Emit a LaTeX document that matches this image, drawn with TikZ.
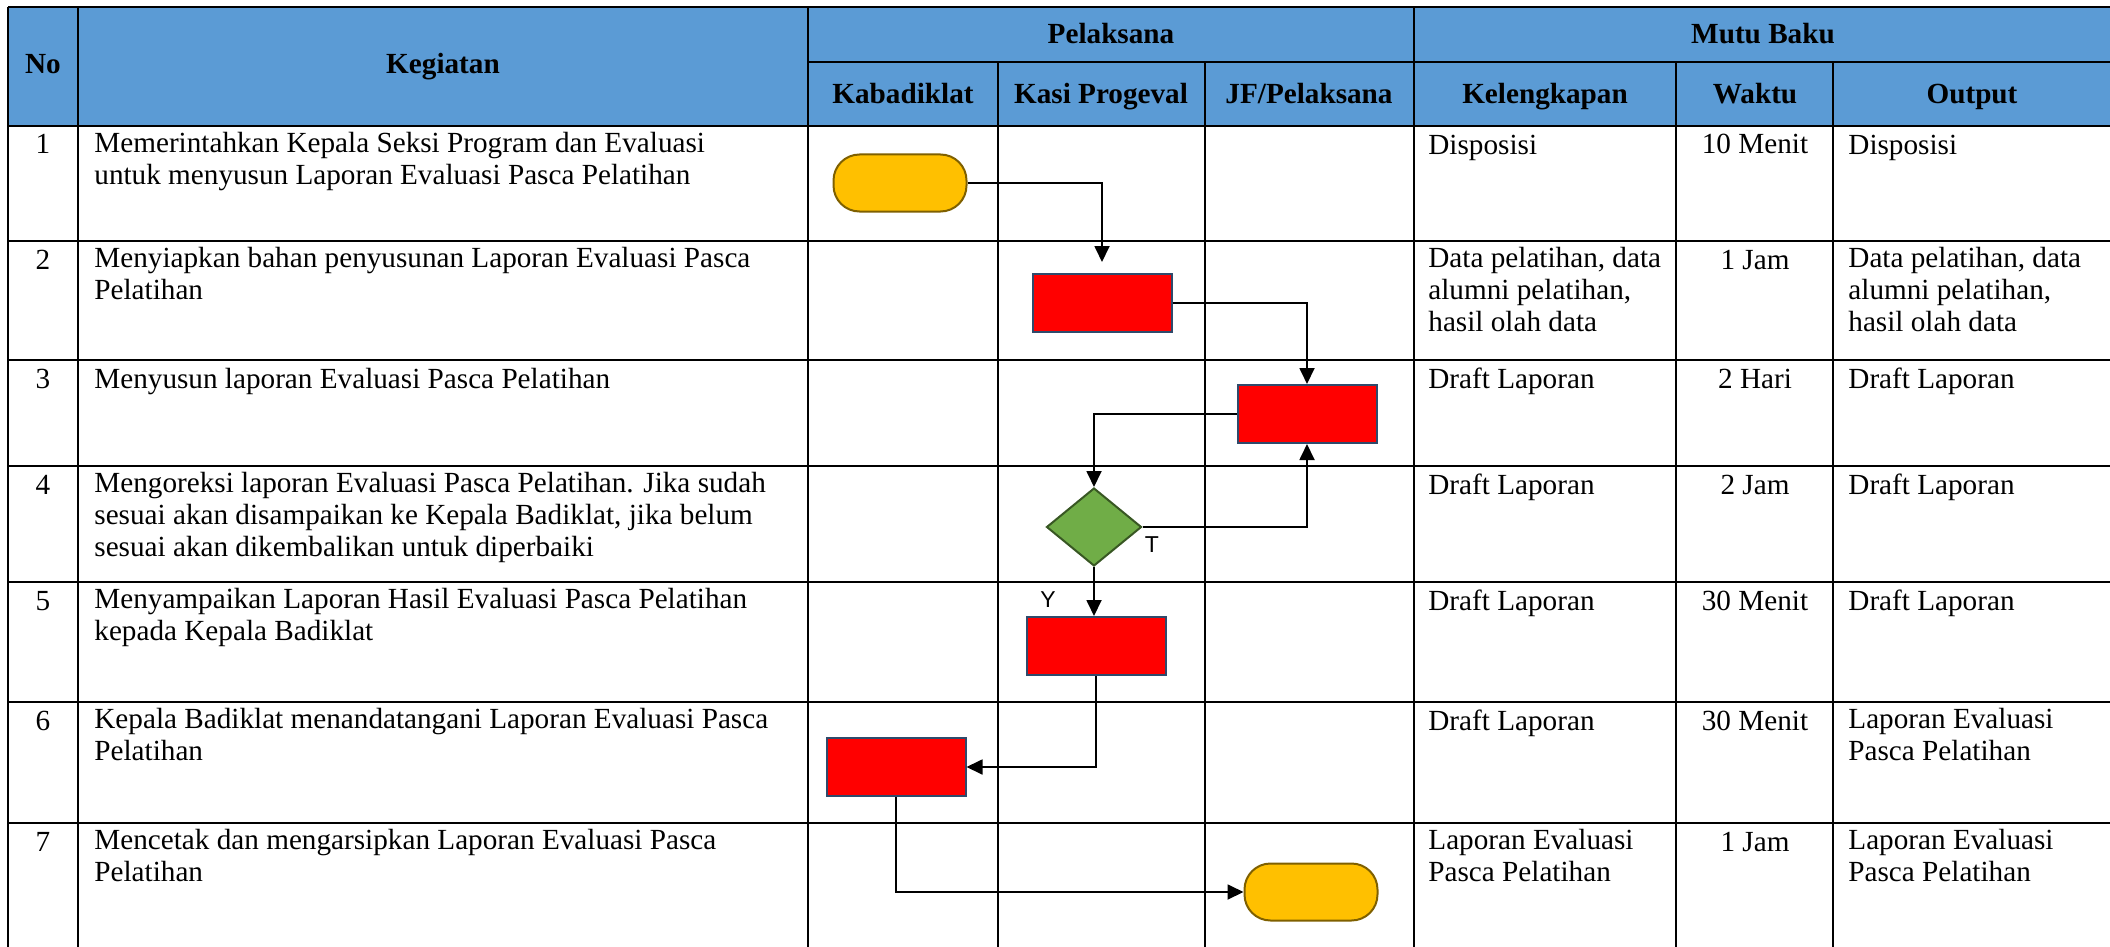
\documentclass[tikz,border=0pt]{standalone}
\usepackage{fontspec}
\setmainfont{Liberation Serif}
\newfontfamily\arialfont{Liberation Sans}
\usetikzlibrary{shapes.geometric}
\usetikzlibrary{arrows.meta}
\usepackage{xcolor}
\definecolor{hdrblue}{HTML}{5B9BD5}
\definecolor{termfill}{HTML}{FFC000}
\definecolor{termline}{HTML}{7F6000}
\definecolor{procline}{HTML}{2F4A6B}
\definecolor{decfill}{HTML}{70AD47}
\definecolor{decline}{HTML}{385723}

\begin{document}
\begin{tikzpicture}[x=0.5pt,y=-0.5pt]
				    \tikzstyle{tableline}=[draw,line width = 1pt,-,black]
				    \tikzstyle{flowline}=[draw,line width = .9pt,-{Triangle[length=8pt,width=7.5pt]},black]
				    \tikzstyle{cell}=[inner sep=0pt,anchor=north west,align=left,font=\fontsize{14.6}{16}\selectfont,execute at begin node=\strut]
				    \tikzstyle{midcell}=[inner sep=0pt,anchor=base,align=center,font=\fontsize{14.6}{16}\selectfont]
				    \tikzstyle{hdr}=[inner sep=0pt,anchor=base,font=\fontsize{14.6}{16}\selectfont\bfseries]
				    \tikzstyle{term}=[draw=termline,fill=termfill,line width=1pt,rounded corners=13pt,minimum width=66.5pt,minimum height=28.5pt,inner sep=0pt]
				    \tikzstyle{proc}=[draw=procline,fill=red,line width=1pt,minimum width=69.5pt,minimum height=29pt,inner sep=0pt]
				    \tikzstyle{dec}=[diamond,draw=decline,fill=decfill,line width=1pt,minimum width=47.5pt,minimum height=39pt,inner sep=0pt]
				    \tikzstyle{yesno}=[inner sep=0pt,font=\arialfont\fontsize{11.5}{12}\selectfont]
				    \useasboundingbox (0,0) rectangle (2110,947);
				    % header
				    \fill[hdrblue] (8,7) rectangle (2112,126);
				    \draw[tableline] (8,7) -- (2112,7);
				    \draw[tableline] (808,62) -- (2112,62);
				    \draw[tableline] (8,126) -- (2112,126);
				    \draw[tableline] (8,241) -- (2112,241);
				    \draw[tableline] (8,360) -- (2112,360);
				    \draw[tableline] (8,466) -- (2112,466);
				    \draw[tableline] (8,582) -- (2112,582);
				    \draw[tableline] (8,702) -- (2112,702);
				    \draw[tableline] (8,823) -- (2112,823);
				    \draw[tableline] (8,7) -- (8,947);
				    \draw[tableline] (78,7) -- (78,947);
				    \draw[tableline] (808,7) -- (808,947);
				    \draw[tableline] (998,62) -- (998,947);
				    \draw[tableline] (1205,62) -- (1205,947);
				    \draw[tableline] (1414,7) -- (1414,947);
				    \draw[tableline] (1676,62) -- (1676,947);
				    \draw[tableline] (1833,62) -- (1833,947);
				    \node[hdr] (hno) at (43,74) {No};
				    \node[hdr] (hkeg) at (443,74) {Kegiatan};
				    \node[hdr] (hpel) at (1111,44) {Pelaksana};
				    \node[hdr] (hmutu) at (1763,44) {Mutu Baku};
				    \node[hdr] (hkab) at (903,104) {Kabadiklat};
				    \node[hdr] (hkasi) at (1101,104) {Kasi Progeval};
				    \node[hdr] (hjf) at (1309,104) {JF/Pelaksana};
				    \node[hdr] (hkel) at (1545,104) {Kelengkapan};
				    \node[hdr] (hwkt) at (1755,104) {Waktu};
				    \node[hdr] (hout) at (1972,104) {Output};
				    % nomor
				    \node[midcell] (no1) at (43,154) {1};
				    \node[midcell] (no2) at (43,269) {2};
				    \node[midcell] (no3) at (43,388) {3};
				    \node[midcell] (no4) at (43,494) {4};
				    \node[midcell] (no5) at (43,610) {5};
				    \node[midcell] (no6) at (43,730) {6};
				    \node[midcell] (no7) at (43,851) {7};
				    % kegiatan
				    \node[cell] (keg1) at (94,131.6) {Memerintahkan Kepala Seksi Program dan Evaluasi\\untuk menyusun Laporan Evaluasi Pasca Pelatihan};
				    \node[cell] (keg2) at (94,246.6) {Menyiapkan bahan penyusunan Laporan Evaluasi Pasca\\Pelatihan};
				    \node[cell] (keg3) at (94,365.6) {Menyusun laporan Evaluasi Pasca Pelatihan};
				    \node[cell] (keg4) at (94,471.6) {Mengoreksi laporan Evaluasi Pasca Pelatihan. Jika sudah\\sesuai akan disampaikan ke Kepala Badiklat, jika belum\\sesuai akan dikembalikan untuk diperbaiki};
				    \node[cell] (keg5) at (94,587.6) {Menyampaikan Laporan Hasil Evaluasi Pasca Pelatihan\\kepada Kepala Badiklat};
				    \node[cell] (keg6) at (94,707.6) {Kepala Badiklat menandatangani Laporan Evaluasi Pasca\\Pelatihan};
				    \node[cell] (keg7) at (94,828.6) {Mencetak dan mengarsipkan Laporan Evaluasi Pasca\\Pelatihan};
				    % kelengkapan
				    \node[cell] (kel1) at (1428,131.6) {Disposisi};
				    \node[cell] (kel2) at (1428,246.6) {Data pelatihan, data\\alumni pelatihan,\\hasil olah data};
				    \node[cell] (kel3) at (1428,365.6) {Draft Laporan};
				    \node[cell] (kel4) at (1428,471.6) {Draft Laporan};
				    \node[cell] (kel5) at (1428,587.6) {Draft Laporan};
				    \node[cell] (kel6) at (1428,707.6) {Draft Laporan};
				    \node[cell] (kel7) at (1428,828.6) {Laporan Evaluasi\\Pasca Pelatihan};
				    % waktu
				    \node[midcell] (wkt1) at (1755,154) {10 Menit};
				    \node[midcell] (wkt2) at (1755,269) {1 Jam};
				    \node[midcell] (wkt3) at (1755,388) {2 Hari};
				    \node[midcell] (wkt4) at (1755,494) {2 Jam};
				    \node[midcell] (wkt5) at (1755,610) {30 Menit};
				    \node[midcell] (wkt6) at (1755,730) {30 Menit};
				    \node[midcell] (wkt7) at (1755,851) {1 Jam};
				    % output
				    \node[cell] (out1) at (1848,131.6) {Disposisi};
				    \node[cell] (out2) at (1848,246.6) {Data pelatihan, data\\alumni pelatihan,\\hasil olah data};
				    \node[cell] (out3) at (1848,365.6) {Draft Laporan};
				    \node[cell] (out4) at (1848,471.6) {Draft Laporan};
				    \node[cell] (out5) at (1848,587.6) {Draft Laporan};
				    \node[cell] (out6) at (1848,707.6) {Laporan Evaluasi\\Pasca Pelatihan};
				    \node[cell] (out7) at (1848,828.6) {Laporan Evaluasi\\Pasca Pelatihan};
				    % flow
				    \node[term] (start) at (900,183) {};
				    \node[proc] (prep) at (1102,303) {};
				    \node[proc] (draft) at (1307,414) {};
				    \node[dec] (check) at (1094,527) {};
				    \node[proc] (send) at (1096,646) {};
				    \node[proc] (sign) at (896,767) {};
				    \node[term] (stop) at (1311,892) {};
				    \node[yesno] (lblT) at (1152,545) {T};
				    \node[yesno] (lblY) at (1048,600) {Y};
				    \draw[flowline,shorten >=5.5pt] (start.east) -| (prep.north);
				    \draw[flowline] (prep.east) -| (draft.north);
				    \draw[flowline] (draft.west) -| (check.north);
				    \draw[flowline] (check.east) -| (draft.south);
				    \draw[flowline] (check.south) -- (send.north -| check.south);
				    \draw[flowline] (send.south) |- (sign.east);
				    \draw[flowline] (sign.south) |- (stop.west);
				\end{tikzpicture}
\end{document}
